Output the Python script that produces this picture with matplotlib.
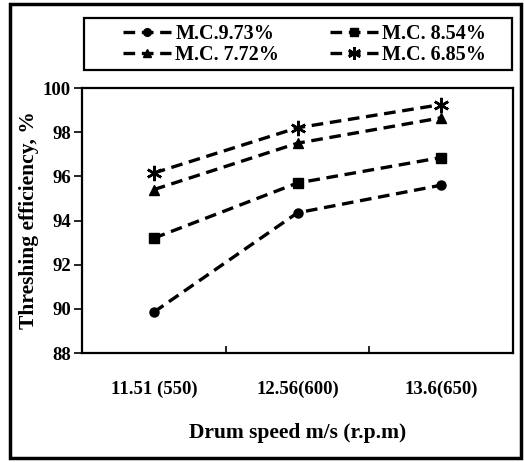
import numpy as np
import matplotlib.pyplot as plt
from matplotlib.patches import Rectangle

# Data
speeds = ["11.51 (550)", "12.56(600)", "13.6(650)"]
mc_973 = [89.85, 94.35, 95.6]
mc_854 = [93.2, 95.7, 96.85]
mc_772 = [95.4, 97.5, 98.65]
mc_685 = [96.15, 98.2, 99.25]
labels = ["M.C.9.73%", "M.C. 8.54%", "M.C. 7.72%", "M.C. 6.85%"]

plt.rcParams['font.family'] = ['Liberation Serif', 'DejaVu Serif']
plt.rcParams['font.weight'] = 'bold'

fig = plt.figure(figsize=(5.24, 4.62), dpi=100)
ax = fig.add_axes([82 / 524, 1 - 353 / 462, 431 / 524, 265 / 462])

x = np.arange(len(speeds)) + 0.5
series = [mc_973, mc_854, mc_772, mc_685]
markers = ["o", "s", "^", (6, 2, 0)]
sizes = [6.5, 6.5, 7.5, 11]
handles = []
for vals, m, s, lab in zip(series, markers, sizes, labels):
    h, = ax.plot(x, vals, linestyle=(0, (3.5, 2)), color="black", lw=2.4,
                 marker=m, markersize=s, markeredgewidth=1.8 if m == markers[3] else 1,
                 label=lab)
    handles.append(h)

ax.set_xlim(0, 3)
ax.set_ylim(88, 100)
ax.set_yticks(range(88, 101, 2))
ax.set_xticks([1, 2])
ax.set_xticklabels([])
ax.set_xticks(x, minor=True)
ax.set_xticklabels(speeds, minor=True, fontsize=13.5, fontweight='bold')
ax.tick_params(axis='x', which='minor', length=0, pad=20)
ax.tick_params(axis='x', which='major', direction='in', length=5, width=1.2)
ax.tick_params(axis='y', direction='out', length=6, width=1.2, labelsize=13.5, pad=2)
for t in ax.get_yticklabels():
    t.set_fontweight('bold')
for sp in ax.spines.values():
    sp.set_linewidth(1.6)

ax.set_xlabel("Drum speed m/s (r.p.m)", fontsize=15.5, fontweight='bold', labelpad=18)
ax.set_ylabel("Threshing efficiency, %", fontsize=15.5, fontweight='bold', labelpad=3)

# legend in two columns, filled row-wise; box drawn separately
order = [0, 2, 1, 3]
leg = fig.legend([handles[i] for i in order], [labels[i] for i in order],
                 ncol=2, loc='upper left', bbox_to_anchor=(113 / 524, 1 - 14 / 462),
                 frameon=False, handlelength=2.4, handletextpad=0.2,
                 columnspacing=2.5, borderpad=0, labelspacing=0.05,
                 markerscale=0.85, prop={'weight': 'bold', 'size': 14.5})
fig.patches.append(Rectangle((84 / 524, 1 - 70 / 462), 428 / 524, 52 / 462,
                             transform=fig.transFigure, fill=False,
                             edgecolor='black', lw=1.6))

# outer frame
fig.patches.append(Rectangle((10 / 524, 4 / 462), 511 / 524, 454 / 462,
                             transform=fig.transFigure, fill=False,
                             edgecolor='black', lw=2.5))

fig.savefig("out.png", dpi=100)
